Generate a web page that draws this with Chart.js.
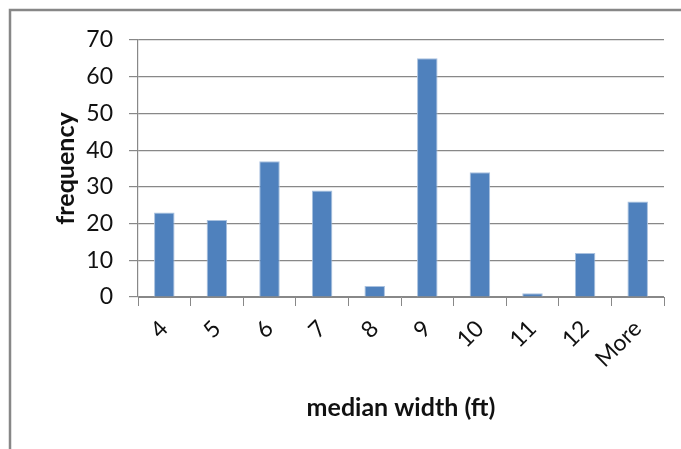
<!DOCTYPE html>
<html>
<head>
<meta charset="utf-8">
<script src="https://cdn.jsdelivr.net/npm/chart.js@4.4.1/dist/chart.umd.min.js"></script>
<style>
  html, body { margin: 0; padding: 0; background: #fff; }
  #wrap { width: 681px; height: 449px; position: relative; }
</style>
</head>
<body>
<div id="wrap"><canvas id="grafico" width="681" height="449"></canvas></div>
<script>
const categorias = ["4", "5", "6", "7", "8", "9", "10", "11", "12", "More"];
const frequencia = [23, 21, 37, 29, 3, 65, 34, 1, 12, 26];
const ticksY = [0, 10, 20, 30, 40, 50, 60, 70];

const fonte = "Lato, 'Open Sans', sans-serif";
const cinza = "#888888";

// moldura cinza do grafico (so aparecem os lados de cima e da esquerda)
const moldura = {
  id: "moldura",
  beforeDraw(chart) {
    const c = chart.ctx;
    c.save();
    c.fillStyle = "#fff";
    c.fillRect(0, 0, chart.width, chart.height);
    c.strokeStyle = "#878787";
    c.lineWidth = 2.5;
    c.beginPath();
    c.moveTo(10, chart.height + 5);
    c.lineTo(10, 10);
    c.lineTo(chart.width + 5, 10);
    c.stroke();
    c.restore();
  }
};

const ctx = document.getElementById("grafico").getContext("2d");
new Chart(ctx, {
  type: "bar",
  data: {
    labels: categorias,
    datasets: [{
      label: "frequency",
      data: frequencia,
      backgroundColor: "#4f81bd",
      borderColor: "#a9c1df",
      borderWidth: 1,
      barPercentage: 0.39,
      categoryPercentage: 1
    }]
  },
  options: {
    responsive: false,
    animation: false,
    layout: { padding: { top: 40, right: 17, left: 0, bottom: 0 } },
    plugins: { legend: { display: false }, tooltip: { enabled: false } },
    scales: {
      x: {
        grid: { drawOnChartArea: false, color: cinza, tickLength: 9, offset: true },
        border: { color: cinza, width: 1 },
        ticks: {
          color: "#111",
          font: { family: fonte, size: 23 },
          minRotation: 45,
          maxRotation: 45,
          padding: 9
        },
        title: {
          display: true,
          text: "median width (ft)",
          color: "#111",
          font: { family: fonte, size: 25, weight: "bold" },
          padding: { top: 0, bottom: 26 }
        },
        afterFit: (s) => { s.height = 449 - 297; }
      },
      y: {
        min: 0,
        max: 70,
        afterBuildTicks: (s) => { s.ticks = ticksY.map((v) => ({ value: v })); },
        grid: { color: cinza, tickLength: 9, lineWidth: 1.2 },
        border: { color: cinza, width: 1.2 },
        ticks: {
          color: "#111",
          font: { family: fonte, size: 23 },
          padding: 16
        },
        title: {
          display: true,
          text: "frequency",
          color: "#111",
          font: { family: fonte, size: 25, weight: "bold" },
          padding: { top: 51, bottom: 0 }
        },
        afterFit: (s) => { s.width = 138; }
      }
    }
  },
  plugins: [moldura]
});
</script>
</body>
</html>
